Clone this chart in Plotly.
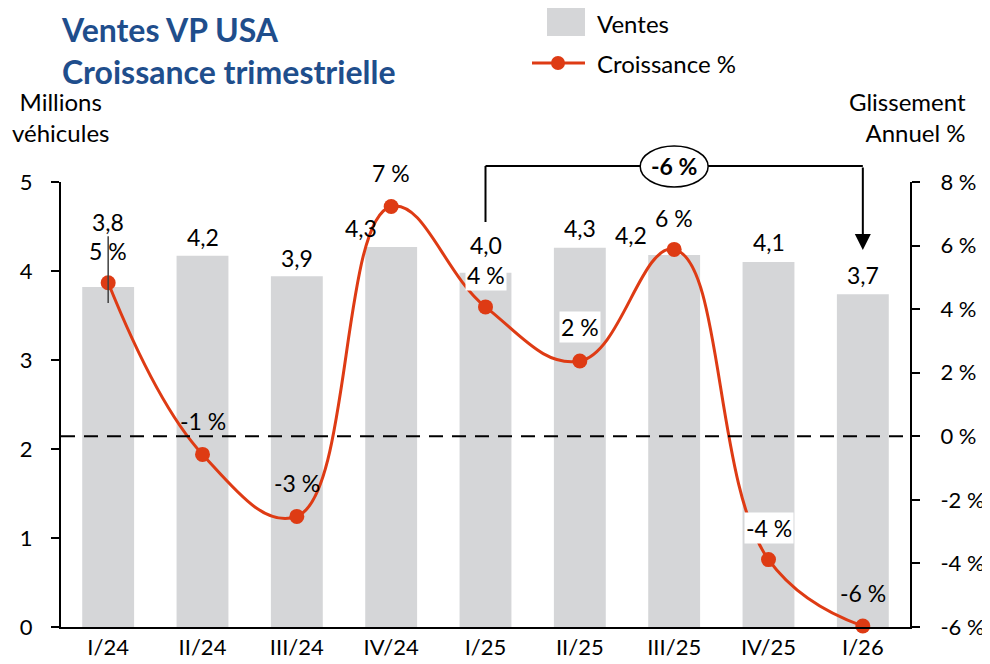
import plotly.graph_objects as go

# ---------------- data ----------------
categories = ["I/24", "II/24", "III/24", "IV/24", "I/25", "II/25", "III/25", "IV/25", "I/26"]
ventes = [3.82, 4.17, 3.94, 4.27, 3.98, 4.26, 4.18, 4.10, 3.74]
ventes_labels = ["3,8", "4,2", "3,9", "4,3", "4,0", "4,3", "4,2", "4,1", "3,7"]
croissance = [4.83, -0.57, -2.52, 7.23, 4.07, 2.37, 5.88, -3.88, -5.97]
croissance_labels = ["5 %", "-1 %", "-3 %", "7 %", "4 %", "2 %", "6 %", "-4 %", "-6 %"]
left_ticks = [0, 1, 2, 3, 4, 5]
left_tick_labels = ["0", "1", "2", "3", "4", "5"]
right_ticks = [-6, -4, -2, 0, 2, 4, 6, 8]
right_tick_labels = ["-6 %", "-4 %", "-2 %", "0 %", "2 %", "4 %", "6 %", "8 %"]
title_lines = ["Ventes VP USA", "Croissance trimestrielle"]
ecart_label = "-6 %"
ecart_from, ecart_to = "I/25", "I/26"

# ---------------- style / layout helpers ----------------
FONT = "Lato"
BAR_COLOR = "#D5D6D8"
LINE_COLOR = "#DE3B14"
TITLE_COLOR = "#1F4E8C"
W, H = 990, 664
OFF = 8  # page body margin
ML, MR, MT, MB = 53, 88, 174, 45
PW, PH = W - ML - MR, H - MT - MB
LBL = 23
TXT = 24
TCK = 22


def px(x):  # screen x -> paper
    return (x - OFF - ML) / PW


def py(y):  # screen y -> paper
    return (H - MB + OFF - y) / PH


# label offsets (pixels) for value labels
bar_label_dy = [65, 19, 18, 19, 28, 20, 20, 20, 19]
bar_label_dx = [0, 0, 0, -30, 0, 0, -43, 0, 0]
pct_label_dy = [32, 33, 33, 33, 32, 34, 31, 32, 33]
pct_label_bg = [None, None, None, None, "white", "white", None, "white", None]

fig = go.Figure()
fig.add_trace(go.Bar(x=categories, y=ventes, marker=dict(color=BAR_COLOR, line=dict(width=0)),
                     width=0.55, name="Ventes", showlegend=False, yaxis="y"))
fig.add_trace(go.Scatter(x=categories, y=croissance, mode="lines+markers", yaxis="y2",
                         line=dict(color=LINE_COLOR, width=3, shape="spline", smoothing=1.2),
                         marker=dict(color=LINE_COLOR, size=15), cliponaxis=False,
                         name="Croissance %", showlegend=False))

annotations = []
shapes = []

for i, c in enumerate(categories):
    annotations.append(dict(x=c, y=ventes[i], xref="x", yref="y", text=ventes_labels[i],
                            showarrow=False, yshift=bar_label_dy[i], xshift=bar_label_dx[i],
                            xanchor="center", yanchor="middle",
                            font=dict(family=FONT, size=LBL, color="black")))
    a = dict(x=c, y=croissance[i], xref="x", yref="y2", text=croissance_labels[i],
             showarrow=False, yshift=pct_label_dy[i], xanchor="center", yanchor="middle",
             font=dict(family=FONT, size=LBL, color="black"), borderpad=1)
    if pct_label_bg[i]:
        a["bgcolor"] = pct_label_bg[i]
    annotations.append(a)

# leader line on first label
shapes.append(dict(type="line", xref="x", yref="y", x0=0, x1=0, y0=3.64, y1=4.39,
                   line=dict(color="#404040", width=1.5), layer="above"))

# zero dashed line
shapes.append(dict(type="line", xref="paper", yref="y2", x0=0, x1=1, y0=0, y1=0,
                   line=dict(color="black", width=2, dash="14px,9px"), layer="above"))

# bracket
i0, i1 = categories.index(ecart_from), categories.index(ecart_to)
shapes.append(dict(type="line", xref="x", yref="paper", x0=i0, x1=i0, y0=py(222), y1=py(166),
                   line=dict(color="black", width=2)))
shapes.append(dict(type="line", xref="x", yref="paper", x0=i0, x1=i1, y0=py(166), y1=py(166),
                   line=dict(color="black", width=2)))
mid = (i0 + i1) / 2
shapes.append(dict(type="circle", xref="x", yref="paper", x0=mid - 0.36, x1=mid + 0.36,
                   y0=py(187), y1=py(146), fillcolor="white", line=dict(color="black", width=1.5)))
annotations.append(dict(x=i1, y=py(250), xref="x", yref="paper", ax=0, ay=-84, text="",
                        showarrow=True, arrowhead=2, arrowwidth=2, arrowsize=1.6, arrowcolor="black"))
annotations.append(dict(x=mid, y=py(166), xref="x", yref="paper", text="<b>" + ecart_label + "</b>",
                        showarrow=False, xanchor="center", yanchor="middle",
                        font=dict(family=FONT, size=LBL, color="black")))

# title (two lines, one text block)
annotations.append(dict(x=px(59), y=py(OFF), xref="paper", yref="paper", xanchor="left",
                        yanchor="top", text="<b>" + "<br>".join(title_lines) + "</b>", align="left",
                        showarrow=False, font=dict(family=FONT, size=32, color=TITLE_COLOR)))

# axis titles
annotations.append(dict(x=px(60), y=py(117), xref="paper", yref="paper", xanchor="center",
                        yanchor="middle", text="Millions<br>véhicules", showarrow=False, align="center",
                        font=dict(family=FONT, size=TXT, color="black")))
annotations.append(dict(x=px(968), y=py(117), xref="paper", yref="paper", xanchor="right",
                        yanchor="middle", text="Glissement<br>Annuel %", showarrow=False, align="right",
                        font=dict(family=FONT, size=TXT, color="black")))

# custom legend
shapes.append(dict(type="rect", xref="paper", yref="paper", x0=px(547), x1=px(585), y0=py(36), y1=py(8),
                   fillcolor=BAR_COLOR, line=dict(width=0)))
shapes.append(dict(type="line", xref="paper", yref="paper", x0=px(532), x1=px(585), y0=py(63), y1=py(63),
                   line=dict(color=LINE_COLOR, width=3)))
shapes.append(dict(type="circle", xref="paper", yref="paper", x0=px(551), x1=px(565), y0=py(70), y1=py(56),
                   fillcolor=LINE_COLOR, line=dict(width=0)))
annotations.append(dict(x=px(595), y=py(23), xref="paper", yref="paper", xanchor="left", yanchor="middle",
                        text="Ventes", showarrow=False, font=dict(family=FONT, size=TXT, color="black")))
annotations.append(dict(x=px(595), y=py(63), xref="paper", yref="paper", xanchor="left", yanchor="middle",
                        text="Croissance %", showarrow=False, font=dict(family=FONT, size=TXT, color="black")))

fig.update_layout(
    width=W, height=H, margin=dict(l=ML, r=MR, t=MT, b=MB, autoexpand=False),
    paper_bgcolor="white", plot_bgcolor="white", showlegend=False,
    font=dict(family=FONT, size=TCK, color="black"),
    xaxis=dict(range=[-0.5, 8.5], showline=True, linecolor="black", linewidth=2, ticks="",
               showgrid=False, automargin=False, tickfont=dict(family=FONT, size=TCK, color="black")),
    yaxis=dict(range=[0, 5], tickvals=left_ticks, ticktext=left_tick_labels, showline=True,
               linecolor="black", linewidth=2, ticks="outside", ticklen=8, tickwidth=2,
               tickcolor="black", showgrid=False, zeroline=False, ticklabelstandoff=14,
               automargin=False, tickfont=dict(family=FONT, size=TCK, color="black")),
    yaxis2=dict(range=[-6, 8], overlaying="y", side="right", tickvals=right_ticks,
                ticktext=right_tick_labels, showline=True, linecolor="black", linewidth=2,
                ticks="outside", ticklen=8, tickwidth=2, tickcolor="black", showgrid=False,
                zeroline=False, ticklabelstandoff=16, automargin=False,
                tickfont=dict(family=FONT, size=TCK, color="black")),
    shapes=shapes, annotations=annotations,
)

fig.write_html("out.html")
